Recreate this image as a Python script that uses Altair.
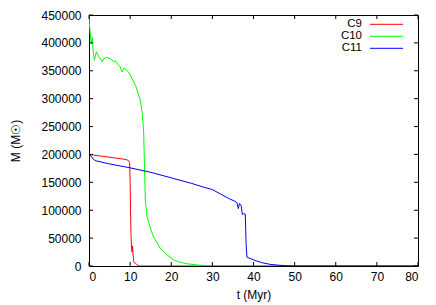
import altair as alt
import pandas as pd

# ---- data ----
c9_t = [0, 1, 3, 5, 7, 8, 9, 9.6, 9.9, 10.0, 10.1, 10.2, 10.35, 10.5, 10.6, 10.7, 10.85, 11.0, 11.3, 11.7, 12.2, 14, 20, 40, 80]
c9_m = [200000, 199000, 197000, 195000, 193000, 192000, 191000, 189000, 185000, 150000, 100000, 60000,
        30000, 25000, 36000, 22000, 10000, 6000, 5000, 2000, 0, 0, 0, 0, 0]

c10_t = [0, 0.1, 0.3, 0.55, 0.8, 1.0, 1.3, 1.8, 2.1, 2.3, 2.8, 3.2, 3.6, 4.4, 5.2, 6.0, 6.4, 7.0, 7.6,
         8.0, 8.6, 9.0, 9.6, 10.5, 11.3, 12.1, 12.5, 12.9, 13.1, 13.3, 13.4, 13.7, 14.1, 15.0, 15.7,
         17.3, 19.0, 20.6, 22.0, 23.8, 26.8, 30, 35, 40, 80]
c10_m = [450000, 435000, 417000, 399000, 410000, 385000, 369000, 384000, 380000, 375000, 372000,
         366000, 372000, 374000, 372000, 366000, 368000, 362000, 357000, 348000, 355000, 352000,
         348000, 336000, 324000, 306000, 297000, 276000, 260000, 238000, 208000, 118000, 88000,
         66000, 52000, 32000, 20000, 11000, 7000, 4000, 1500, 500, 0, 0, 0]

c11_t = [0, 0.5, 1.0, 1.5, 2, 5, 10, 15, 20, 25, 28, 30, 32, 34, 35.5, 36.0, 36.3, 36.6, 37.0,
         37.3, 37.6, 38.0, 38.2, 38.4, 40, 42, 44, 46, 48, 50, 80]
c11_m = [200000, 197000, 192000, 189000, 188000, 183000, 176000, 168000, 158000, 148000, 141000,
         137000, 129000, 121000, 116000, 113000, 103000, 112000, 108000, 92000, 94000, 93000,
         40000, 16000, 11000, 6000, 3000, 1500, 500, 0, 0]

series_names = ["C9", "C10", "C11"]
series_colors = ["#ff0000", "#00ff00", "#0000ff"]
x_ticks = [0, 10, 20, 30, 40, 50, 60, 70, 80]
y_ticks = [0, 50000, 100000, 150000, 200000, 250000, 300000, 350000, 400000, 450000]

rows = []
for name, ts, ms in zip(series_names, [c9_t, c10_t, c11_t], [c9_m, c10_m, c11_m]):
    for i, (t, m) in enumerate(zip(ts, ms)):
        rows.append({"series": name, "t": t, "M": m, "order": i})
df = pd.DataFrame(rows)

W, H = 329, 251
FONT = "Liberation Sans"
X_TITLE = "t (Myr)"
Y_TITLE = "M (M☉)"

xscale = alt.Scale(domain=[0, 80], nice=False, zero=False)
yscale = alt.Scale(domain=[0, 450000], nice=False)

xaxis = alt.Axis(values=x_ticks, ticks=False, domain=False, grid=False,
                 labelPadding=5, titlePadding=7, labelFontSize=12,
                 titleFontSize=12, titleFontWeight="normal", labelOverlap=False,
                 labelFont=FONT, titleFont=FONT, labelColor="black", titleColor="black")
yaxis = alt.Axis(values=y_ticks, ticks=False, domain=False, grid=False,
                 labelPadding=8, titlePadding=18, labelFontSize=12,
                 titleFontSize=12, titleFontWeight="normal", format="d",
                 labelOverlap=False,
                 labelFont=FONT, titleFont=FONT, labelColor="black", titleColor="black")

lines = alt.Chart(df).mark_line(strokeWidth=1, clip=True).encode(
    x=alt.X("t:Q", scale=xscale, title=X_TITLE, axis=xaxis),
    y=alt.Y("M:Q", scale=yscale, title=Y_TITLE, axis=yaxis),
    color=alt.Color("series:N", scale=alt.Scale(domain=series_names, range=series_colors), legend=None),
    order="order:Q",
)

xt = pd.DataFrame({"v": x_ticks})
yt = pd.DataFrame({"v": y_ticks})
tick_len = 4
xb = alt.Chart(xt).mark_rule(color="black", strokeWidth=1).encode(
    x=alt.X("v:Q", scale=xscale, title=X_TITLE, axis=xaxis), y=alt.value(H), y2=alt.value(H - tick_len))
xtop = alt.Chart(xt).mark_rule(color="black", strokeWidth=1).encode(
    x=alt.X("v:Q", scale=xscale, title=X_TITLE, axis=xaxis), y=alt.value(0), y2=alt.value(tick_len))
yl = alt.Chart(yt).mark_rule(color="black", strokeWidth=1).encode(
    y=alt.Y("v:Q", scale=yscale, title=Y_TITLE, axis=yaxis), x=alt.value(0), x2=alt.value(tick_len))
yr = alt.Chart(yt).mark_rule(color="black", strokeWidth=1).encode(
    y=alt.Y("v:Q", scale=yscale, title=Y_TITLE, axis=yaxis), x=alt.value(W - tick_len), x2=alt.value(W))

# manual gnuplot-style key
leg_layers = []
for i, (name, col) in enumerate(zip(series_names, series_colors)):
    yy = 9.3 + 12 * i
    leg_df = pd.DataFrame({"series": [name]})
    leg_layers.append(alt.Chart(leg_df).mark_text(align="right", baseline="middle", fontSize=11.5,
                                                  font=FONT, color="black").encode(
        text="series:N", x=alt.value(273), y=alt.value(yy)))
    leg_layers.append(alt.Chart(leg_df).mark_rule(color=col, strokeWidth=1).encode(
        x=alt.value(281), x2=alt.value(314), y=alt.value(yy)))

chart = alt.layer(lines, xb, xtop, yl, yr, *leg_layers).properties(
    width=W, height=H,
    autosize=alt.AutoSizeParams(type="none"),
    padding={"left": 81, "top": 7, "right": 10, "bottom": 40},
    background="white",
).configure_view(stroke="black", strokeWidth=1)

chart.save("out.html", embed_options={"renderer": "svg", "actions": False})
